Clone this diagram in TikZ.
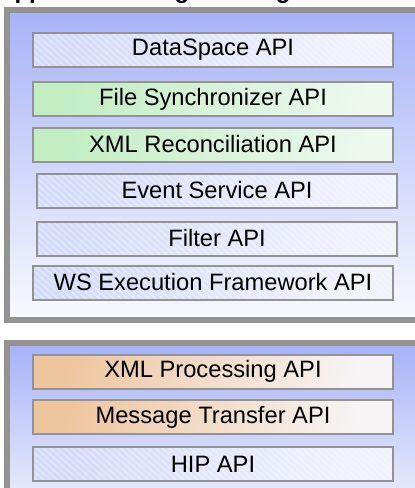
\documentclass[tikz,border=0pt]{standalone}
\usepackage{fontspec}
\setmainfont{Liberation Sans}
\definecolor{panelblue}{HTML}{A7B3F7}
\definecolor{panelwhite}{HTML}{F8F9FE}
\definecolor{paneltwobottom}{HTML}{E4E8FC}
\definecolor{framegray}{HTML}{939393}
\definecolor{boxline}{HTML}{939393}
\definecolor{bluel}{HTML}{D5DCF8}
\definecolor{bluer}{HTML}{F1F3FC}
\definecolor{greenl}{HTML}{C2EEC2}
\definecolor{greenr}{HTML}{EDF8EF}
\definecolor{orangel}{HTML}{EEC69E}
\definecolor{oranger}{HTML}{F7F4F6}
\tikzset{
  apibox/.style={draw=boxline, line width=2pt, minimum width=360pt,
    minimum height=34pt, inner sep=0pt, text=black,
    font=\fontsize{23.7}{28}\selectfont},
  stripes/.style={path picture={
    \foreach \k in {0,7,...,420}{
      \draw[white, opacity=.3, line width=1.3pt]
        ([xshift={(\k-40)*1pt}]path picture bounding box.north west) -- ++(40pt,-36pt);}}},
  bluebox/.style={apibox, left color=bluel, right color=bluer, shading angle=70, stripes},
  greenbox/.style={apibox, left color=greenl, right color=greenr, shading angle=75},
  orangebox/.style={apibox, left color=orangel, right color=oranger, shading angle=70},
}
\begin{document}
\begin{tikzpicture}[x=1pt, y=-1pt]
\useasboundingbox (0,0) rectangle (415,488);
% cut-off title
\node[anchor=base west, inner sep=0pt, font=\bfseries\fontsize{24}{28}\selectfont]
  (title) at (-3,-2) {Application Programming Interfaces};
% panel 1
\shade[top color=panelblue, bottom color=panelwhite] (10,13) rectangle (430,317);
\draw[framegray, line width=6pt] (7,10) rectangle (440,320);
% panel 2
\shade[top color=panelblue, bottom color=paneltwobottom] (10,346) rectangle (430,488);
\draw[framegray, line width=6pt] (7,343) rectangle (440,520);
% boxes of panel 1
\node[bluebox]  (ds)  at (213,50)  {DataSpace API};
\node[greenbox] (fs)  at (213,99)  {File Synchronizer API};
\node[greenbox] (xr)  at (213,144.5) {XML Reconciliation API};
\node[bluebox]  (ev)  at (217,190.5) {Event Service API};
\node[bluebox]  (fi)  at (217,238.5) {Filter API};
\node[bluebox]  (ws)  at (213,282.5) {WS Execution Framework API};
% boxes of panel 2
\node[orangebox] (xp) at (213,371.5) {XML Processing API};
\node[orangebox] (mt) at (213,417)   {Message Transfer API};
\node[bluebox]   (hip) at (213,464)  {HIP API};
\end{tikzpicture}
\end{document}
